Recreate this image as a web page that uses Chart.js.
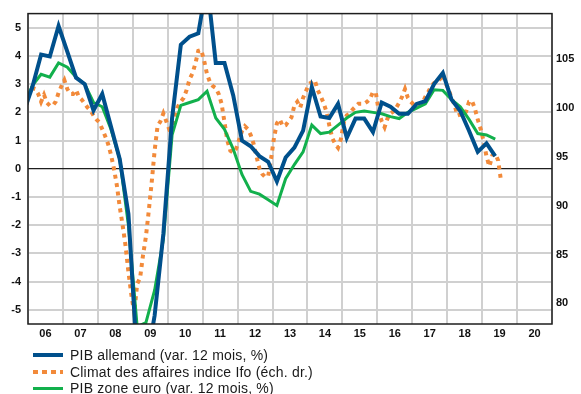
<!DOCTYPE html>
<html lang="fr">
<head>
    <meta charset="UTF-8">
    <title>PIB allemand et indice Ifo</title>
    <script src="https://cdn.jsdelivr.net/npm/chart.js"></script>
    <style>
        * { margin: 0; padding: 0; box-sizing: border-box; }
        body { background: #ffffff; font-family: "Liberation Sans", Arial, sans-serif; }
        .wrap { position: relative; width: 581px; height: 394px; }
        canvas { position: absolute; left: 0; top: 0; }
        .legend { position: absolute; left: 33px; top: 346.5px; }
        .legend .row { display: flex; align-items: center; height: 16.7px; font-size: 14px; letter-spacing: 0.2px; color: #1a1a1a; white-space: nowrap; }
        .legend .line { width: 30px; margin-right: 7px; }
    </style>
</head>
<body>
<div class="wrap">
    <canvas id="chart" width="581" height="394"></canvas>
    <div class="legend" id="legend"></div>
</div>
<script>
    // années affichées sur l'axe
    const years = ['06', '07', '08', '09', '10', '11', '12', '13', '14', '15', '16', '17', '18', '19', '20'];
    const leftTicks = [-5, -4, -3, -2, -1, 0, 1, 2, 3, 4, 5];
    const rightTicks = [80, 85, 90, 95, 100, 105];

    // trimestriel, de T4 2005 à T2 2019
    const pibStart = 2005.75;
    const pibAllemand = [
        2.0,
        2.9, 4.05, 3.98, 5.06,
        4.15, 3.23, 3.0, 2.07,
        2.65, 1.5, 0.35, -1.6,
        -6.8, -7.0, -5.2, -2.3,
        1.8, 4.4, 4.68, 4.8,
        6.6, 3.75, 3.75, 2.6,
        1.0, 0.8, 0.45, 0.25,
        -0.45, 0.4, 0.75, 1.35,
        2.9, 1.85, 1.8, 2.3,
        1.1, 1.78, 1.78, 1.3,
        2.35, 2.2, 1.95, 1.95,
        2.3, 2.4, 3.0, 3.4,
        2.45, 2.05, 1.35, 0.6,
        0.9, 0.45
    ];
    const pibZoneEuro = [
        2.2,
        2.95, 3.35, 3.25, 3.75,
        3.6, 3.25, 3.0, 2.35,
        2.2, 1.4, 0.35, -2.0,
        -5.6, -5.45, -4.3, -2.5,
        1.2, 2.25, 2.35, 2.45,
        2.75, 1.8, 1.4, 0.7,
        -0.2, -0.8, -0.9, -1.1,
        -1.3, -0.35, 0.15, 0.6,
        1.55, 1.25, 1.3, 1.55,
        1.8, 2.0, 2.05, 2.0,
        1.95, 1.85, 1.78, 2.0,
        2.15, 2.3, 2.8, 2.78,
        2.45, 2.2, 1.75, 1.25,
        1.2, 1.05
    ];

    // mensuel, de décembre 2005 à juillet 2019
    const ifoStart = 2005 + 11 / 12;
    const ifo = [
        100.3,
        101.6, 102.0, 101.9, 101.4, 100.6, 101.3, 100.5, 100.2, 100.2, 100.6, 101.5, 102.2,
        102.8, 101.9, 101.4, 101.4, 101.8, 101.1, 100.8, 100.4, 100.0, 99.7, 99.2, 98.8,
        98.5, 97.8, 97.1, 96.3, 95.2, 93.8, 92.1, 89.9, 88.0, 85.9, 83.2, 80.9,
        79.0, 82.0, 82.6, 84.9, 86.8, 89.5, 92.4, 95.6, 98.1, 98.6, 99.4, 98.6,
        97.8, 98.0, 99.3, 100.1, 100.6, 101.0, 101.8, 102.9, 103.5, 104.5, 105.8, 105.9,
        104.8, 103.4, 102.6, 102.2, 102.0, 101.4, 100.4, 98.5, 96.6, 95.6, 95.4, 95.8,
        96.7, 97.6, 98.1, 97.8, 97.2, 96.3, 95.0, 93.8, 93.2, 92.9, 93.0, 94.8,
        96.9, 98.4, 98.8, 98.1, 98.2, 98.6, 99.0, 100.2, 100.6, 100.0, 101.0, 101.7,
        102.4, 102.6, 102.8, 101.8, 101.2, 100.5, 99.6, 98.2, 96.9, 96.3, 95.9, 96.8,
        98.5, 99.2, 99.4, 99.8, 100.1, 100.4, 100.4, 100.4, 100.6, 100.9, 101.6, 101.5,
        99.6, 98.6, 98.0, 98.9, 99.4, 99.6, 100.0, 100.5, 101.1, 101.9, 101.0, 100.6,
        100.3, 100.2, 100.3, 100.5, 101.1, 101.6, 102.2, 102.5, 102.7, 102.9, 103.4, 102.5,
        101.8, 101.0, 100.3, 99.2, 99.3, 99.2, 99.6, 100.6, 100.7, 99.9, 98.8, 97.8,
        96.6, 95.0, 94.0, 95.1, 95.3, 94.6, 92.5
    ];

    const blue = '#00508c';
    const orange = '#f28a3a';
    const green = '#12b04c';
    const tickFont = { family: "'Liberation Sans', Arial, sans-serif", size: 11, weight: 'bold' };

    function toPoints(values, start, step) {
        return values.map((v, i) => ({ x: start + (i + 0.5) * step, y: v }));
    }

    const frame = {
        id: 'frame',
        afterDatasetsDraw(chart) {
            const a = chart.chartArea;
            const c = chart.ctx;
            c.save();
            c.strokeStyle = '#1e1e1e';
            c.lineWidth = 1.5;
            c.strokeRect(a.left, a.top, a.right - a.left, a.bottom - a.top);
            c.restore();
        }
    };

    new Chart(document.getElementById('chart').getContext('2d'), {
        type: 'line',
        data: {
            labels: years,
            datasets: [
                {
                    label: 'PIB allemand (var. 12 mois, %)',
                    data: toPoints(pibAllemand, pibStart, 0.25),
                    borderColor: blue,
                    borderWidth: 4,
                    xAxisID: 'xd',
                    yAxisID: 'y',
                    clip: 0
                },
                {
                    label: 'PIB zone euro (var. 12 mois, %)',
                    data: toPoints(pibZoneEuro, pibStart, 0.25),
                    borderColor: green,
                    borderWidth: 3,
                    xAxisID: 'xd',
                    yAxisID: 'y',
                    clip: 0
                },
                {
                    label: 'Climat des affaires indice Ifo (éch. dr.)',
                    data: toPoints(ifo, ifoStart, 1 / 12),
                    borderColor: orange,
                    borderWidth: 4,
                    borderDash: [4, 4.5],
                    borderCapStyle: 'butt',
                    xAxisID: 'xd',
                    yAxisID: 'y1',
                    clip: 0
                }
            ]
        },
        options: {
            responsive: false,
            animation: false,
            devicePixelRatio: 1,
            layout: { padding: { top: 8, left: 0, right: 0, bottom: 0 } },
            elements: { point: { radius: 0 }, line: { tension: 0 } },
            plugins: { legend: { display: false }, tooltip: { enabled: false } },
            scales: {
                x: {
                    type: 'category',
                    labels: years,
                    offset: true,
                    grid: { offset: true, color: '#d0d0d0', lineWidth: 2, drawTicks: false },
                    border: { display: false },
                    ticks: { font: tickFont, color: '#111', padding: 3, maxRotation: 0, autoSkip: false },
                    afterFit: s => { s.height = 70; }
                },
                xd: { type: 'linear', display: false, min: 2006, max: 2021 },
                y: {
                    position: 'left',
                    min: -5.5,
                    max: 5.5,
                    afterBuildTicks: s => { s.ticks = leftTicks.map(v => ({ value: v })); },
                    grid: {
                        drawTicks: false,
                        color: c => c.tick && c.tick.value === 0 ? '#1e1e1e' : '#d0d0d0',
                        lineWidth: c => c.tick && c.tick.value === 0 ? 1.3 : 2
                    },
                    border: { display: false },
                    ticks: { font: tickFont, color: '#111', padding: 7 },
                    afterFit: s => { s.width = 28; }
                },
                y1: {
                    position: 'right',
                    min: 77.9,
                    max: 109.6,
                    afterBuildTicks: s => { s.ticks = rightTicks.map(v => ({ value: v })); },
                    grid: { display: false, drawTicks: false },
                    border: { display: false },
                    ticks: { font: tickFont, color: '#111', padding: 4 },
                    afterFit: s => { s.width = 29; }
                }
            }
        },
        plugins: [frame]
    });

    // légende
    const legendItems = [
        { text: 'PIB allemand (var. 12 mois, %)', css: 'height:4px;background:' + blue },
        { text: 'Climat des affaires indice Ifo (éch. dr.)', css: 'height:4px;background:repeating-linear-gradient(to right,' + orange + ' 0 5px,transparent 5px 9px)' },
        { text: 'PIB zone euro (var. 12 mois, %)', css: 'height:3px;background:' + green }
    ];
    document.getElementById('legend').innerHTML = legendItems.map(it =>
        '<div class="row"><span class="line" style="' + it.css + '"></span><span>' + it.text + '</span></div>'
    ).join('');
</script>
</body>
</html>
